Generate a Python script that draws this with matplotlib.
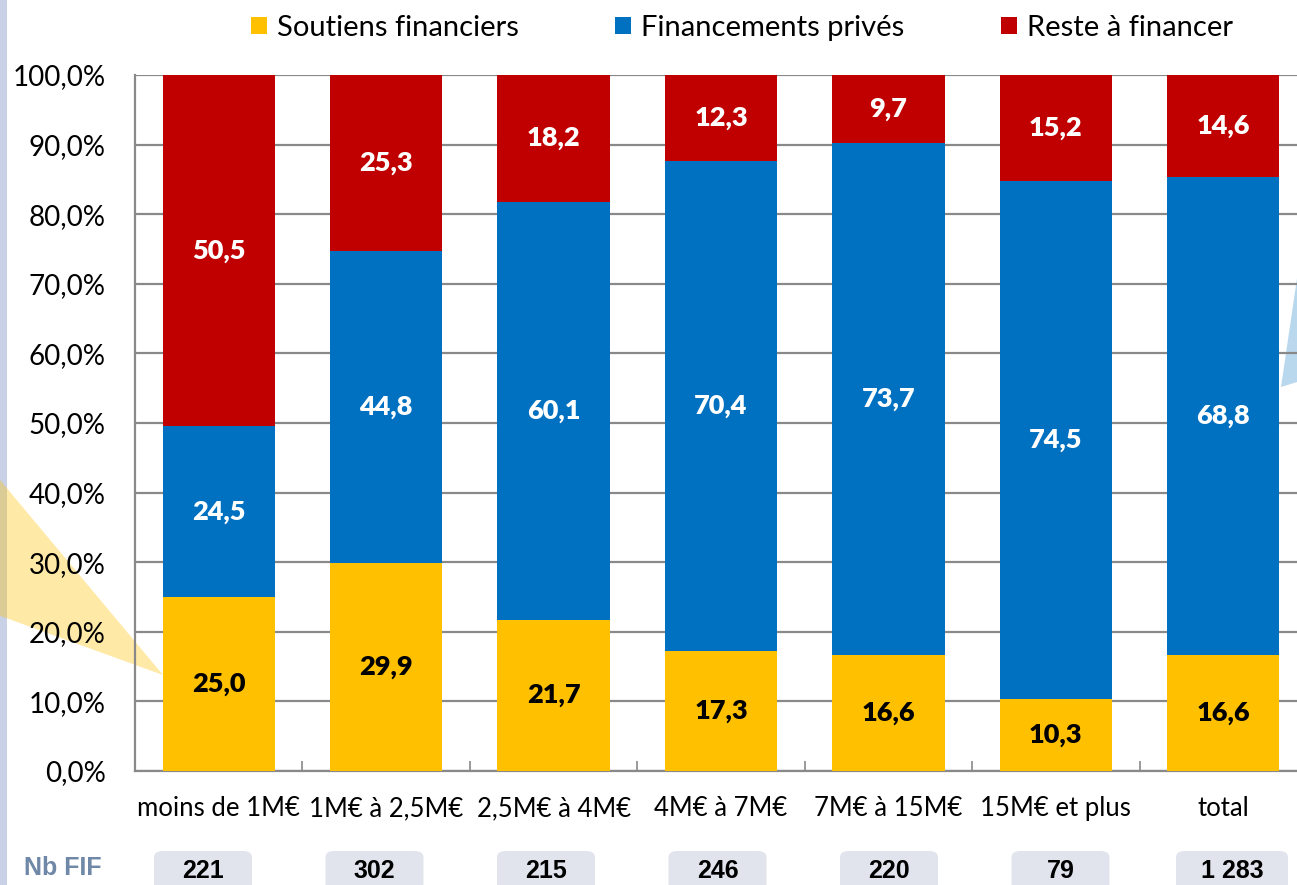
import matplotlib
matplotlib.use("Agg")
import matplotlib.pyplot as plt
from matplotlib.patches import Polygon, Rectangle, FancyBboxPatch
from matplotlib.ticker import FuncFormatter, FixedLocator
import numpy as np

# ---- data ----
categories = ["moins de 1M€", "1M€ à 2,5M€", "2,5M€ à 4M€", "4M€ à 7M€",
              "7M€ à 15M€", "15M€ et plus", "total"]
soutiens = [25.0, 29.9, 21.7, 17.3, 16.6, 10.3, 16.6]
prives = [24.5, 44.8, 60.1, 70.4, 73.7, 74.5, 68.8]
reste = [50.5, 25.3, 18.2, 12.3, 9.7, 15.2, 14.6]
nb_fif = ["221", "302", "215", "246", "220", "79", "1 283"]
series_names = ["Soutiens financiers", "Financements privés", "Reste à financer"]

# ---- style ----
C_YELLOW = "#FFC000"
C_BLUE = "#0070C0"
C_RED = "#C00000"
GRID = "#898989"
FONT = "Lato"
W, H = 1297, 885

fig = plt.figure(figsize=(W / 100, H / 100), dpi=100)
fig.patch.set_facecolor("white")


def fx(px):
    return px / W


def fy(py):
    return 1 - py / H


# decorative strip on the left edge
fig.patches.append(Rectangle((0, 0), fx(7), 1, transform=fig.transFigure,
                             facecolor="#C8D1E5", edgecolor="none", zorder=-3))

# translucent callout shapes behind the plot
fig.patches.append(Polygon([(fx(-5), fy(474)), (fx(163), fy(675)), (fx(-5), fy(614))],
                           closed=True, transform=fig.transFigure,
                           facecolor=C_YELLOW, alpha=0.35, edgecolor="none", zorder=-2))
fig.patches.append(Polygon([(fx(1281), fy(387)), (fx(1310), fy(190)), (fx(1310), fy(378))],
                           closed=True, transform=fig.transFigure,
                           facecolor=C_BLUE, alpha=0.27, edgecolor="none", zorder=-2))

ax = fig.add_axes([fx(135), fy(771), fx(1307 - 135), fy(75) - fy(771)])
ax.patch.set_alpha(0)

x = np.arange(len(categories))
bw = 0.67
b1 = ax.bar(x, soutiens, bw, color=C_YELLOW, label=series_names[0], zorder=3)
bottom2 = np.array(soutiens)
b2 = ax.bar(x, prives, bw, bottom=bottom2, color=C_BLUE, label=series_names[1], zorder=3)
bottom3 = bottom2 + np.array(prives)
b3 = ax.bar(x, reste, bw, bottom=bottom3, color=C_RED, label=series_names[2], zorder=3)


def fr(v):
    return f"{v:.1f}".replace(".", ",")


for bars, vals, bots, col in [(b1, soutiens, np.zeros(len(x)), "black"),
                              (b2, prives, bottom2, "white"),
                              (b3, reste, bottom3, "white")]:
    for xi, v, b in zip(x, vals, bots):
        ax.text(xi, b + v / 2, fr(v), ha="center", va="center", color=col,
                fontsize=19.5, fontweight="heavy", family=FONT, zorder=4)

ax.set_xlim(-0.5, len(categories) - 0.5)
ax.set_ylim(0, 100)
ax.set_yticks(np.arange(0, 101, 10))
ax.yaxis.set_major_formatter(FuncFormatter(lambda v, p: f"{v:.1f}".replace(".", ",") + "%"))
ax.grid(axis="y", color=GRID, linewidth=1.6, zorder=1)
ax.set_axisbelow(True)

ax.set_xticks(x)
ax.set_xticklabels(categories)
ax.xaxis.set_minor_locator(FixedLocator(np.arange(-0.5, len(categories), 1.0)))
ax.tick_params(axis="x", which="major", length=0, pad=18, labelsize=18.5)
ax.tick_params(axis="x", which="minor", length=7, direction="in", color=GRID, width=1.2)
ax.tick_params(axis="y", length=0, pad=21, labelsize=20)
for lab in ax.get_xticklabels() + ax.get_yticklabels():
    lab.set_family(FONT)

for s in ["top", "right"]:
    ax.spines[s].set_visible(False)
for s in ["left", "bottom"]:
    ax.spines[s].set_color(GRID)
    ax.spines[s].set_linewidth(1.6)

# legend across the top
leg = fig.legend(handles=[b1, b2, b3], labels=series_names, loc="center",
                 bbox_to_anchor=(fx(742), fy(28)), ncol=3, frameon=False,
                 prop={"family": FONT, "size": 21}, handlelength=0.55,
                 handleheight=0.55, handletextpad=0.35, columnspacing=3.3,
                 borderaxespad=0)

# count row at the bottom
fig.text(fx(63), fy(868), "Nb FIF", ha="center", va="center", color="#7088A8",
         fontsize=18, fontweight="bold", family="Liberation Sans")
box_x0, box_step = 203, 171.5
for i, n in enumerate(nb_fif):
    cx = box_x0 + box_step * i
    bwid = 98 if len(n) <= 3 else 112
    fig.patches.append(FancyBboxPatch((fx(cx - bwid / 2), fy(900)), fx(bwid), fy(851) - fy(900),
                                      boxstyle="round,pad=0,rounding_size=0.007",
                                      transform=fig.transFigure, facecolor="#E1E4ED",
                                      edgecolor="none", zorder=1))
    fig.text(fx(cx), fy(871), n, ha="center", va="center", color="black",
             fontsize=18, fontweight="bold", family="Liberation Sans", zorder=2)

fig.savefig("out.png", dpi=100)
